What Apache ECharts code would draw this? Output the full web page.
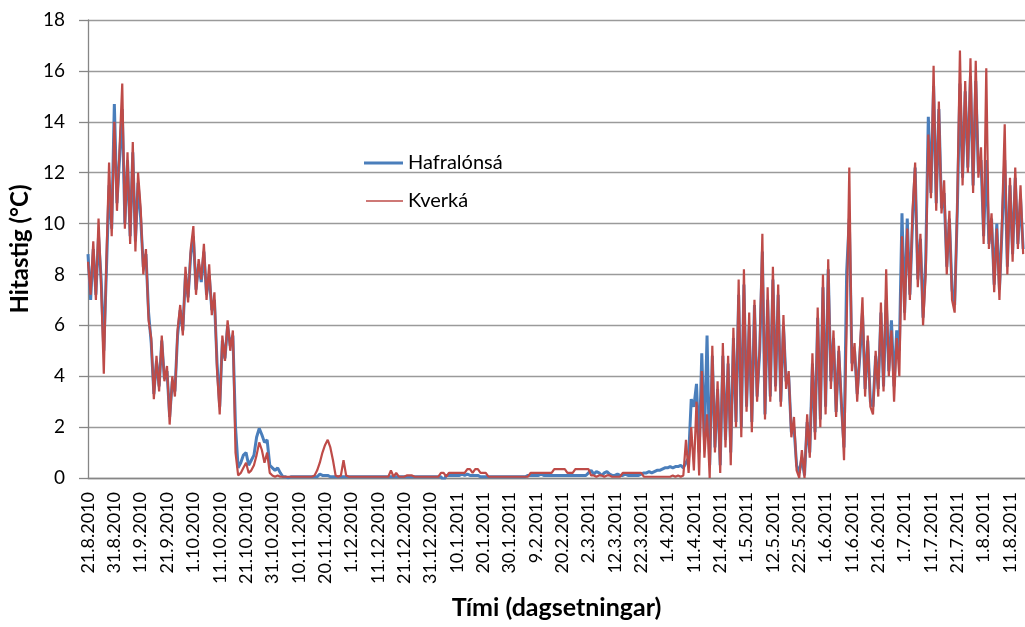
<!DOCTYPE html>
<html><head><meta charset="utf-8">
<script src="https://cdn.jsdelivr.net/npm/echarts@6/dist/echarts.min.js"></script>
<style>html,body{margin:0;padding:0;background:#fff}#c{width:1025px;height:627px}</style>
</head><body><div id="c"></div>
<script>
const tickLabels = ['21.8.2010','31.8.2010','11.9.2010','21.9.2010','1.10.2010','11.10.2010','21.10.2010','31.10.2010','10.11.2010','20.11.2010','1.12.2010','11.12.2010','21.12.2010','31.12.2010','10.1.2011','20.1.2011','30.1.2011','9.2.2011','20.2.2011','2.3.2011','12.3.2011','22.3.2011','1.4.2011','11.4.2011','21.4.2011','1.5.2011','12.5.2011','22.5.2011','1.6.2011','11.6.2011','21.6.2011','1.7.2011','11.7.2011','21.7.2011','1.8.2011','11.8.2011'];
const seriesNames = ['Hafralónsá','Kverká'];
const hafralonsa = [
8.8,7.0,9.0,7.2,9.5,7.8,5.0,8.2,11.5,9.8,
14.7,10.8,12.6,14.5,10.0,12.5,9.5,12.8,9.3,11.6,
10.2,8.3,8.8,6.5,5.3,3.3,4.6,3.6,5.4,3.9,
4.2,2.4,3.8,3.4,5.6,6.6,5.8,8.0,7.1,8.8,
9.5,7.4,8.4,7.7,8.9,7.2,8.0,6.6,7.0,4.5,
2.8,5.4,4.7,6.0,5.2,5.6,2.0,0.4,0.6,0.9,
1.0,0.5,0.7,0.9,1.6,1.95,1.7,1.4,1.5,0.5,
0.4,0.3,0.4,0.2,0.05,0.05,0.0,0.05,0.05,0.05,
0.05,0.05,0.05,0.05,0.05,0.05,0.05,0.05,0.15,0.1,
0.1,0.1,0.05,0.05,0.05,0.05,0.05,0.05,0.05,0.05,
0.05,0.05,0.05,0.05,0.05,0.05,0.05,0.05,0.05,0.05,
0.05,0.05,0.05,0.05,0.05,0.05,0.05,0.05,0.05,0.05,
0.05,0.05,0.05,0.05,0.05,0.05,0.05,0.05,0.05,0.05,
0.05,0.05,0.05,0.05,0.05,-0.1,0.1,0.1,0.1,0.1,
0.1,0.1,0.15,0.1,0.15,0.1,0.1,0.1,0.1,0.05,
0.05,0.05,0.05,0.05,0.05,0.05,0.05,0.05,0.05,0.05,
0.05,0.05,0.05,0.05,0.05,0.05,0.05,0.1,0.1,0.1,
0.1,0.1,0.15,0.1,0.1,0.1,0.1,0.1,0.1,0.1,
0.1,0.1,0.1,0.1,0.1,0.1,0.1,0.1,0.1,0.1,
0.2,0.3,0.15,0.25,0.2,0.1,0.2,0.25,0.15,0.1,
0.1,0.15,0.1,0.1,0.15,0.1,0.1,0.1,0.1,0.1,
0.15,0.2,0.2,0.25,0.2,0.25,0.3,0.3,0.35,0.4,
0.4,0.45,0.4,0.45,0.45,0.5,0.4,0.6,0.8,3.1,
2.8,3.7,1.0,4.9,1.5,5.6,0.5,4.8,1.2,3.5,
0.5,4.8,1.5,4.5,1.0,5.5,2.2,7.2,2.0,7.6,
2.8,6.0,2.2,6.8,3.2,5.0,8.9,2.5,7.0,3.2,
7.8,3.6,7.2,3.0,6.0,3.8,4.0,1.8,2.0,0.5,
0.2,0.8,0.1,2.2,1.0,4.5,1.8,6.3,2.3,7.5,
2.8,8.2,3.8,5.5,2.6,5.0,2.9,1.2,8.1,10.2,
4.5,5.0,3.3,4.8,6.5,3.5,5.4,3.0,2.8,4.8,
3.5,6.5,3.6,7.0,4.2,6.2,3.6,5.8,5.0,10.4,
6.5,10.2,7.2,10.0,12.2,7.8,9.4,6.3,8.5,14.2,
11.2,15.4,10.8,14.5,10.6,11.2,8.3,10.2,7.4,6.8,
10.5,15.5,11.8,15.2,12.2,15.8,11.5,15.6,12.0,12.5,
9.5,12.5,9.2,10.2,7.6,10.0,7.4,9.8,12.5,8.3,
11.5,8.8,11.8,9.2,11.0,9.0];
const kverka = [
8.5,7.2,9.3,7.0,10.2,7.5,4.1,8.6,12.4,9.5,
14.0,10.5,13.0,15.5,9.8,12.8,9.2,13.2,8.9,12.0,
10.6,8.0,9.0,6.2,5.5,3.1,4.8,3.4,5.6,3.8,
4.4,2.1,4.0,3.2,5.8,6.8,5.6,8.3,6.9,9.0,
9.9,7.2,8.6,7.8,9.2,7.0,8.4,6.4,7.3,4.2,
2.5,5.6,4.6,6.2,5.0,5.8,1.0,0.1,0.2,0.4,
0.6,0.2,0.3,0.5,0.9,1.4,1.1,0.6,1.0,0.2,
0.1,0.05,0.1,0.05,0.05,0.05,0.05,0.05,0.05,0.05,
0.05,0.05,0.05,0.05,0.05,0.05,0.1,0.3,0.6,1.0,
1.3,1.5,1.2,0.7,0.1,0.05,0.1,0.7,0.1,0.05,
0.05,0.05,0.05,0.05,0.05,0.05,0.05,0.05,0.05,0.05,
0.05,0.05,0.05,0.05,0.05,0.3,0.05,0.2,0.05,0.05,
0.05,0.1,0.1,0.1,0.05,0.05,0.05,0.05,0.05,0.05,
0.05,0.05,0.05,0.05,0.2,0.2,0.05,0.2,0.2,0.2,
0.2,0.2,0.2,0.2,0.35,0.35,0.2,0.35,0.35,0.2,
0.2,0.2,0.05,0.05,0.05,0.05,0.05,0.05,0.05,0.05,
0.05,0.05,0.05,0.05,0.05,0.05,0.05,0.05,0.2,0.2,
0.2,0.2,0.2,0.2,0.2,0.2,0.2,0.35,0.35,0.35,
0.35,0.35,0.2,0.2,0.2,0.35,0.35,0.35,0.35,0.35,
0.35,0.1,0.1,0.05,0.1,0.1,0.05,0.1,0.1,0.05,
0.05,0.05,0.05,0.2,0.2,0.2,0.2,0.2,0.2,0.2,
0.2,0.05,0.05,0.05,0.05,0.05,0.05,0.05,0.05,0.05,
0.05,0.05,0.1,0.05,0.1,0.05,0.1,1.5,0.2,2.0,
0.3,3.0,0.1,4.2,0.8,2.5,0.0,5.2,1.0,3.8,
0.2,5.3,1.2,4.8,0.5,5.9,2.0,7.8,1.6,8.2,
2.6,6.5,1.8,7.0,3.0,5.2,9.6,2.3,7.5,3.0,
8.3,3.4,7.6,2.8,6.4,3.5,4.2,1.6,2.4,0.3,
0.0,1.1,0.0,2.5,0.8,4.9,1.5,6.7,2.0,8.0,
2.5,8.6,3.5,5.8,2.4,5.2,3.0,0.7,6.0,12.2,
4.2,5.3,3.0,5.0,7.1,3.2,5.6,2.8,2.5,5.0,
3.2,6.9,3.4,8.2,4.0,5.8,3.0,5.5,4.0,9.5,
6.2,9.8,7.0,10.5,12.4,7.5,9.6,6.0,8.0,13.5,
11.0,16.2,10.5,14.8,10.4,11.7,8.0,10.5,7.0,6.5,
10.8,16.8,11.5,15.6,12.0,16.5,11.2,16.4,11.8,13.0,
9.2,16.1,9.0,10.4,7.3,9.8,7.0,10.2,13.9,8.0,
11.8,8.5,12.2,9.0,11.5,8.8];

const pointsPerLabel = 10;
const toXY = arr => arr.map((v, i) => [i, v]);
const FONT = 'Lato, "Noto Sans", sans-serif';
const BLUE = '#4a7ebb', RED = '#be4b48';

const chart = echarts.init(document.getElementById('c'));
chart.setOption({
  animation: false,
  backgroundColor: '#fff',
  grid: { left: 88, right: 0, top: 20, bottom: 149, containLabel: false, outerBoundsMode: 'none' },
  legend: [
    { left: 359, top: 148, itemWidth: 39, itemHeight: 3, itemGap: 6, icon: 'rect',
      textStyle: { fontFamily: FONT, fontSize: 20, color: '#000' },
      data: [seriesNames[0]] },
    { left: 361, top: 186, itemWidth: 37, itemHeight: 1.6, itemGap: 6, icon: 'rect',
      textStyle: { fontFamily: FONT, fontSize: 20, color: '#000' },
      data: [seriesNames[1]] }
  ],
  xAxis: {
    type: 'value', min: 0, max: 355.7, interval: pointsPerLabel,
    name: 'Tími (dagsetningar)', nameLocation: 'middle', nameGap: 117,
    nameTextStyle: { fontFamily: FONT, fontSize: 25, fontWeight: 'bold', color: '#000' },
    axisLine: { lineStyle: { color: '#868686', width: 1.3 } },
    axisTick: { show: false },
    splitLine: { show: false },
    axisLabel: {
      rotate: 90, margin: 14, fontFamily: FONT, fontSize: 18, color: '#000',
      showMaxLabel: false,
      formatter: v => {
        const k = Math.round(v / pointsPerLabel);
        return Math.abs(v - k * pointsPerLabel) < 1e-6 && tickLabels[k] ? tickLabels[k] : '';
      }
    }
  },
  yAxis: {
    type: 'value', min: 0, max: 18, interval: 2,
    name: 'Hitastig (°C)', nameLocation: 'middle', nameGap: 55, nameRotate: 90,
    nameTextStyle: { fontFamily: FONT, fontSize: 24, fontWeight: 'bold', color: '#000' },
    axisLine: { show: true, lineStyle: { color: '#868686', width: 1.3 } },
    axisTick: { show: true, length: 9, lineStyle: { color: '#868686', width: 1.3 } },
    splitLine: { lineStyle: { color: '#9a9a9a', width: 1.3 } },
    axisLabel: { margin: 23, fontFamily: FONT, fontSize: 19, color: '#000' }
  },
  series: [
    { name: seriesNames[0], type: 'line', data: toXY(hafralonsa), showSymbol: false, symbol: 'none',
      color: BLUE, lineStyle: { color: BLUE, width: 3 }, z: 2 },
    { name: seriesNames[1], type: 'line', data: toXY(kverka), showSymbol: false, symbol: 'none',
      color: RED, lineStyle: { color: RED, width: 2.2 }, z: 3 }
  ]
});
</script></body></html>
